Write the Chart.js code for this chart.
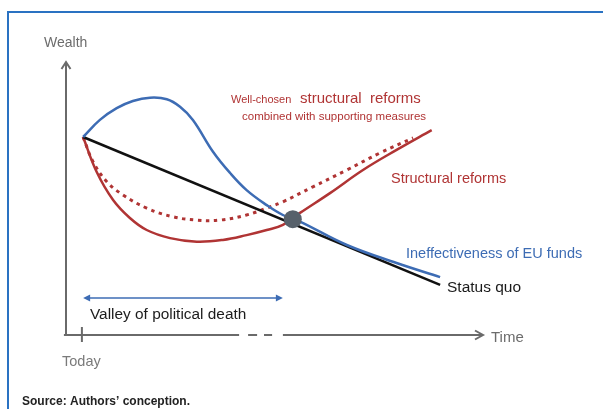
<!DOCTYPE html>
<html lang="en">
<head>
	<meta charset="UTF-8">
	<title>Valley of political death</title>
	<script src="https://cdn.jsdelivr.net/npm/chart.js"></script>
	<style>
		html, body { margin: 0; padding: 0; background: #fff; }
		canvas { display: block; }
	</style>
</head>
<body>
	<canvas id="wealthChart" width="603" height="409"></canvas>
	<script>
	// wealth paths over time (time 0..14, wealth 0..10)
	const blueX = [0.57, 1.13, 1.69, 2.23, 2.80, 3.36, 3.80, 4.23, 4.90, 5.47, 6.02, 6.69, 7.23, 7.80, 9.36, 11.02, 12.47];
	const blueY = [6.60, 7.17, 7.56, 7.80, 7.91, 7.86, 7.61, 7.17, 6.11, 5.40, 4.83, 4.33, 4.00, 3.78, 3.00, 2.40, 1.93];

	const reformX = [0.57, 1.02, 1.57, 2.13, 2.69, 3.47, 4.36, 5.23, 6.02, 6.69, 7.23, 7.80, 8.80, 9.90, 11.02, 12.19];
	const reformY = [6.60, 5.44, 4.50, 3.90, 3.50, 3.23, 3.11, 3.17, 3.33, 3.50, 3.67, 4.07, 4.73, 5.50, 6.17, 6.83];

	const wellX = [0.57, 0.90, 1.36, 1.90, 2.69, 3.57, 4.36, 5.13, 6.02, 6.69, 7.23, 8.23, 9.36, 10.47, 11.57];
	const wellY = [6.60, 5.78, 5.11, 4.67, 4.23, 3.94, 3.83, 3.83, 4.00, 4.23, 4.44, 4.94, 5.50, 6.07, 6.57];

	const quoX = [0.57, 12.47];
	const quoY = [6.60, 1.67];

	const meetX = [7.56];
	const meetY = [3.86];

	const todayX = 0.53;
	const valleyFrom = 0.57;
	const valleyTo = 7.23;
	const valleyY = 1.23;

	function pts(xs, ys) {
		return xs.map((x, i) => ({ x: x, y: ys[i] }));
	}

	const RED = '#b03434';
	const BLUE = '#3d6cb4';
	const AXIS = '#6a6a6a';

	// pixel label positions (left x, baseline y)
	const labels = [
		{ text: 'Wealth', x: 44, y: 47, font: '14px "Liberation Sans", Arial', color: '#6c6c6c' },
		{ text: 'Well-chosen', x: 231, y: 103, font: '11px "Liberation Sans", Arial', color: RED },
		{ text: 'structural  reforms', x: 300, y: 103, font: '15px "Liberation Sans", Arial', color: RED },
		{ text: 'combined with supporting measures', x: 242, y: 120, font: '11.5px "Liberation Sans", Arial', color: RED },
		{ text: 'Structural reforms', x: 391, y: 183, font: '14.5px "Liberation Sans", Arial', color: RED },
		{ text: 'Ineffectiveness of EU funds', x: 406, y: 258, font: '14.5px "Liberation Sans", Arial', color: BLUE },
		{ text: 'Status quo', x: 447, y: 292, font: '15.5px "Liberation Sans", Arial', color: '#1a1a1a' },
		{ text: 'Valley of political death', x: 90, y: 319, font: '15.4px "Liberation Sans", Arial', color: '#1c1c1c' },
		{ text: 'Time', x: 491, y: 342, font: '15px "Liberation Sans", Arial', color: '#6c6c6c' },
		{ text: 'Today', x: 62, y: 366, font: '14.5px "Liberation Sans", Arial', color: '#7a7a7a' },
		{ text: 'Source: Authors\u2019 conception.', x: 22, y: 405, font: 'bold 12px "Liberation Sans", Arial', color: '#222' }
	];

	function line(ctx, x1, y1, x2, y2) {
		ctx.beginPath();
		ctx.moveTo(x1, y1);
		ctx.lineTo(x2, y2);
		ctx.stroke();
	}

	const decor = {
		id: 'decor',
		beforeDatasetsDraw(chart) {
			const ctx = chart.ctx;
			const xs = chart.scales.x;
			const ys = chart.scales.y;
			const X = v => xs.getPixelForValue(v);
			const Y = v => ys.getPixelForValue(v);
			ctx.save();

			// frame
			ctx.strokeStyle = '#2a72c2';
			ctx.lineWidth = 2;
			ctx.beginPath();
			ctx.moveTo(603, 12);
			ctx.lineTo(8, 12);
			ctx.lineTo(8, 409);
			ctx.stroke();

			// axes
			ctx.strokeStyle = AXIS;
			ctx.lineWidth = 2;
			ctx.lineCap = 'butt';
			const ox = X(0), oy = Y(0);
			line(ctx, ox, oy + 1, ox, Y(9.1));
			line(ctx, X(-0.07), oy, X(5.77), oy);
			line(ctx, X(6.07), oy, X(6.37), oy);
			line(ctx, X(6.6), oy, X(6.87), oy);
			line(ctx, X(7.23), oy, X(13.9), oy);
			// arrow heads
			ctx.lineJoin = 'miter';
			ctx.beginPath();
			ctx.moveTo(ox - 4.5, Y(9.1) + 7);
			ctx.lineTo(ox, Y(9.1));
			ctx.lineTo(ox + 4.5, Y(9.1) + 7);
			ctx.stroke();
			ctx.beginPath();
			ctx.moveTo(X(13.9) - 8, oy - 4.5);
			ctx.lineTo(X(13.9), oy);
			ctx.lineTo(X(13.9) - 8, oy + 4.5);
			ctx.stroke();
			// today tick
			line(ctx, X(todayX), oy - 8, X(todayX), oy + 7);

			// valley arrow
			ctx.strokeStyle = BLUE;
			ctx.fillStyle = BLUE;
			ctx.lineWidth = 1.5;
			const vy = Y(valleyY), va = X(valleyFrom), vb = X(valleyTo);
			line(ctx, va + 3, vy, vb - 3, vy);
			ctx.beginPath();
			ctx.moveTo(va, vy);
			ctx.lineTo(va + 7, vy - 3.5);
			ctx.lineTo(va + 7, vy + 3.5);
			ctx.closePath();
			ctx.fill();
			ctx.beginPath();
			ctx.moveTo(vb, vy);
			ctx.lineTo(vb - 7, vy - 3.5);
			ctx.lineTo(vb - 7, vy + 3.5);
			ctx.closePath();
			ctx.fill();

			// labels
			ctx.textBaseline = 'alphabetic';
			ctx.textAlign = 'left';
			labels.forEach(l => {
				ctx.font = l.font;
				ctx.fillStyle = l.color;
				ctx.fillText(l.text, l.x, l.y);
			});
			ctx.restore();
		}
	};

	const ctx = document.getElementById('wealthChart').getContext('2d');
	new Chart(ctx, {
		type: 'line',
		data: {
			datasets: [{
				label: 'Meeting point',
				data: pts(meetX, meetY),
				showLine: false,
				pointRadius: 9,
				pointBackgroundColor: '#57616b',
				pointBorderWidth: 0
			}, {
				label: 'Ineffectiveness of EU funds',
				data: pts(blueX, blueY),
				borderColor: BLUE,
				borderWidth: 2.5,
				tension: 0.4
			}, {
				label: 'Status quo',
				data: pts(quoX, quoY),
				borderColor: '#111',
				borderWidth: 2.5
			}, {
				label: 'Structural reforms',
				data: pts(reformX, reformY),
				borderColor: RED,
				borderWidth: 2.5,
				tension: 0.4
			}, {
				label: 'Well-chosen structural reforms',
				data: pts(wellX, wellY),
				borderColor: RED,
				borderWidth: 3,
				borderDash: [3.5, 4.5],
				tension: 0.4
			}]
		},
		options: {
			responsive: false,
			animation: false,
			layout: { padding: { left: 66, right: 117, top: 35, bottom: 74 } },
			elements: { point: { radius: 0, hoverRadius: 0 } },
			scales: {
				x: { type: 'linear', min: 0, max: 14, display: false },
				y: { type: 'linear', min: 0, max: 10, display: false }
			},
			plugins: {
				legend: { display: false },
				tooltip: { enabled: false }
			}
		},
		plugins: [decor]
	});
	</script>
</body>
</html>
